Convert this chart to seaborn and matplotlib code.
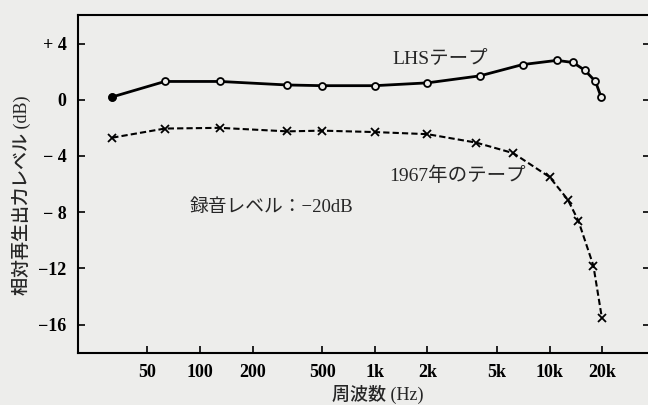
import matplotlib
matplotlib.use('Agg')
import matplotlib.pyplot as plt
import seaborn as sns
import pandas as pd

# Data
lhs_freq = [31.5, 63, 130, 315, 500, 1000, 2000, 4000, 7000, 11000, 13600, 15900, 18300, 19700]
lhs_db = [0.2, 1.3, 1.3, 1.05, 1.0, 1.0, 1.2, 1.7, 2.5, 2.8, 2.65, 2.1, 1.3, 0.2]
old_freq = [31.5, 63, 130, 315, 500, 1000, 2000, 3800, 6200, 10000, 12700, 14600, 17800, 19900]
old_db = [-2.7, -2.05, -2.0, -2.25, -2.2, -2.3, -2.45, -3.05, -3.8, -5.5, -7.1, -8.6, -11.8, -15.5]
x_ticks = [50, 100, 200, 500, 1000, 2000, 5000, 10000, 20000]
x_labels = ['50', '100', '200', '500', '1k', '2k', '5k', '10k', '20k']
y_ticks = [4, 0, -4, -8, -12, -16]
y_labels = ['+ 4', '0', '\u2212 4', '\u2212 8', '\u221212', '\u221216']

lhs_df = pd.DataFrame({'freq': lhs_freq, 'db': lhs_db})
old_df = pd.DataFrame({'freq': old_freq, 'db': old_db})

sns.set_theme(style='ticks')
fonts = ['Liberation Serif', 'Noto Sans CJK JP']
plt.rcParams['font.family'] = fonts

bg = '#ededeb'
fig = plt.figure(figsize=(6.48, 4.05), dpi=100, facecolor=bg)
ax = fig.add_axes([0.120, 0.129, 0.883, 0.833], facecolor=bg)

# LHS tape: solid line, open circles
sns.lineplot(data=lhs_df, x='freq', y='db', ax=ax, color='black', linewidth=2.0,
             marker='o', markersize=5, markerfacecolor=bg, markeredgecolor='black',
             markeredgewidth=1.3, sort=False)
ax.plot(lhs_freq[0], lhs_db[0], 'o', color='black', markersize=5)
# 1967 tape: dashed line, crosses
sns.lineplot(data=old_df, x='freq', y='db', ax=ax, color='black', linewidth=1.5,
             linestyle=(0, (3, 1.5)), marker='x', markersize=6, markeredgecolor='black',
             markeredgewidth=1.3, sort=False)

ax.set_xscale('log')
ax.set_xlim(20, 37500)
ax.set_ylim(-18, 6)
ax.set_xticks(x_ticks)
ax.set_xticklabels(x_labels)
ax.minorticks_off()
ax.set_yticks(y_ticks)
ax.set_yticklabels(y_labels)

for sp in ax.spines.values():
    sp.set_linewidth(1.5)
    sp.set_color('black')
ax.tick_params(axis='both', direction='in', length=5, width=1.2, labelsize=13,
               colors='black', pad=8)
ax.tick_params(axis='y', right=True, labelright=False)
for lab in ax.get_xticklabels() + ax.get_yticklabels():
    lab.set_fontweight('bold')

ax.set_xlabel('周波数 (Hz)', fontsize=13, fontweight='medium')
ax.xaxis.set_label_coords(0.525, -0.095)
ax.set_ylabel('相対再生出力レベル (dB)', fontsize=13, fontweight='medium')
ax.yaxis.set_label_coords(-0.082, 0.468)

ax.text(2370, 2.9, 'LHSテープ', fontsize=14, ha='center', va='center')
ax.text(2970, -5.43, '1967年のテープ', fontsize=14, ha='center', va='center')
ax.text(257, -7.64, '録音レベル：\u221220dB', fontsize=13.5, ha='center', va='center')

fig.savefig('out.png', dpi=100, facecolor=bg)
